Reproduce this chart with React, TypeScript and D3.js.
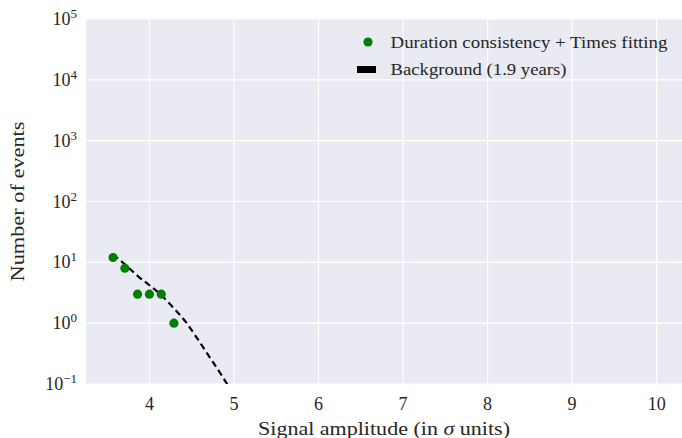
import React from "react";
import * as d3 from "d3";

const pointX = [3.57, 3.71, 3.86, 4.0, 4.14, 4.29];
const pointY = [12, 8, 3, 3, 3, 1];
const bgX = [3.57, 3.71, 3.86, 4.0, 4.14, 4.29, 4.43, 4.57, 4.71, 4.86, 5.0];
const bgY = [13.5, 9.3, 6.0, 4.2, 2.9, 1.75, 1.05, 0.55, 0.28, 0.135, 0.065];
const xTicks = [4, 5, 6, 7, 8, 9, 10];
const yExps = [-1, 0, 1, 2, 3, 4, 5];
const legendLabels = ["Duration consistency + Times fitting", "Background (1.9 years)"];

const W = 682, H = 438;
const L = 86, R = 682, T = 19, B = 384;
const FONT = "'Liberation Serif', 'DejaVu Serif', serif";

export default function App() {
  const x = d3.scaleLinear().domain([3.25, 10.3]).range([L, R]);
  const y = d3.scaleLog().domain([0.1, 1e5]).range([B, T]);
  const line = d3
    .line<number>()
    .x((_, i) => x(bgX[i]))
    .y((d) => y(d))
    .curve(d3.curveMonotoneX);
  return (
    <svg width={W} height={H} style={{ position: "absolute", left: 0, top: 0 }} fontFamily={FONT}>
      <defs>
        <clipPath id="plot"><rect x={L} y={T} width={R - L} height={B - T} /></clipPath>
      </defs>
      <rect x={L} y={T} width={R - L} height={B - T} fill="#EAEAF2" />
      {xTicks.map((t) => (
        <line key={"gx" + t} x1={x(t)} x2={x(t)} y1={T} y2={B} stroke="#fff" strokeWidth={1.2} />
      ))}
      {yExps.map((e) => (
        <line key={"gy" + e} x1={L} x2={R} y1={y(Math.pow(10, e))} y2={y(Math.pow(10, e))} stroke="#fff" strokeWidth={1.2} />
      ))}
      <g clipPath="url(#plot)">
        <path d={line(bgY) || ""} fill="none" stroke="#000" strokeWidth={2.2} strokeDasharray="6.5,4" />
      </g>
      {pointX.map((px, i) => (
        <circle key={"p" + i} cx={x(px)} cy={y(pointY[i])} r={4.6} fill="#008000" />
      ))}
      {xTicks.map((t) => (
        <text key={"tx" + t} x={x(t)} y={410} textAnchor="middle" fontSize={18} fill="#262626">{t}</text>
      ))}
      {yExps.map((e) => (
        <text key={"ty" + e} x={77} y={y(Math.pow(10, e)) + 6} textAnchor="end" fontSize={18} fill="#262626">
          10<tspan dy={-7} fontSize={13}>{e < 0 ? "\u2212" + Math.abs(e) : e}</tspan>
        </text>
      ))}
      <text x={258} y={435} textLength={252} lengthAdjust="spacingAndGlyphs" fontSize={19} fill="#262626">
        Signal amplitude (in <tspan fontStyle="italic">σ</tspan> units)
      </text>
      <text transform={`translate(24,281.5) rotate(-90)`} textLength={160} lengthAdjust="spacingAndGlyphs" fontSize={19} fill="#262626">
        Number of events
      </text>
      <circle cx={368} cy={42} r={4.6} fill="#008000" />
      <text x={390.5} y={47.5} textLength={277} lengthAdjust="spacingAndGlyphs" fontSize={17} fill="#262626">{legendLabels[0]}</text>
      <rect x={357} y={66} width={19} height={7} fill="#000" />
      <text x={390.5} y={74.5} textLength={176} lengthAdjust="spacingAndGlyphs" fontSize={17} fill="#262626">{legendLabels[1]}</text>
    </svg>
  );
}
